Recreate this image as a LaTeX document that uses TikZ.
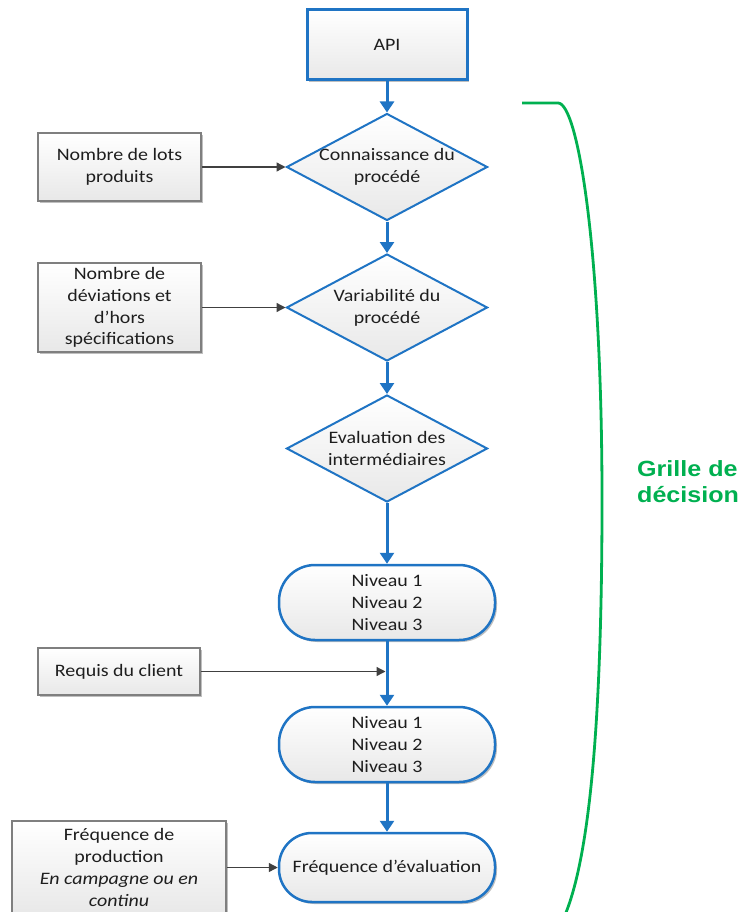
\documentclass[tikz,border=0pt]{standalone}
\usepackage{fontspec}
\setmainfont{Carlito}[FakeStretch=1.14]
\newfontfamily\grillefont{Liberation Sans}[FakeStretch=1.14]
\usetikzlibrary{shapes.geometric,arrows.meta,shadows}
\definecolor{blueC}{HTML}{1F74C4}
\definecolor{greenC}{HTML}{00B050}
\definecolor{grayB}{HTML}{7F7F7F}
\definecolor{grayA}{HTML}{404040}
\definecolor{txtC}{HTML}{1E1E1E}
\tikzset{
  every node/.style={font=\fontsize{17.5}{21.7}\selectfont, text=txtC, align=center},
  gradfill/.style={top color=white, bottom color=black!9},
  sh/.style={drop shadow={shadow xshift=2pt, shadow yshift=-2pt, opacity=0.25, fill=black}},
  apibox/.style={rectangle, draw=blueC, line width=3pt, gradfill, sh, minimum width=160pt, minimum height=70pt, inner sep=0},
  decbox/.style={diamond, draw=blueC, line width=2pt, gradfill, minimum width=201pt, minimum height=107pt, inner sep=0, aspect=2},
  levbox/.style={rectangle, rounded corners=36pt, draw=blueC, line width=2.5pt, gradfill, sh, minimum width=216pt, minimum height=75pt, inner sep=0},
  inbox/.style={rectangle, draw=grayB, line width=1.8pt, gradfill, sh, inner sep=0},
  flow/.style={draw=blueC, line width=3pt, -{Triangle[width=14pt,length=11pt]}},
  feed/.style={draw=grayA, line width=1.3pt, -{Triangle[width=9pt,length=9pt]}},
  brace/.style={draw=greenC, line width=2.8pt}
}
\begin{document}
\begin{tikzpicture}[x=1pt,y=-1pt]
\useasboundingbox (0,0) rectangle (742,912);
\clip (0,0) rectangle (742,912);

% main column
\node[apibox] (api) at (387,45) {API};
\node[decbox] (d1) at (387,167) {};
\node (d1t) at (d1) {Connaissance du\\procédé};
\node[decbox] (d2) at (387,307.5) {};
\node (d2t) at (d2) {Variabilité du\\procédé};
\node[decbox] (d3) at (387,448.5) {};
\node (d3t) at (d3) {Evaluation des\\intermédiaires};
\node[levbox] (n1) at (387,602.5) {Niveau 1\\Niveau 2\\Niveau 3};
\node[levbox] (n2) at (387,744.5) {Niveau 1\\Niveau 2\\Niveau 3};
\node[levbox, minimum height=69pt, rounded corners=33pt] (n3) at (387,867.5) {Fréquence d’évaluation};

% inputs
\node[inbox, minimum width=163pt, minimum height=68pt] (lots) at (119.5,167) {Nombre de lots\\produits};
\node[inbox, minimum width=163pt, minimum height=89pt] (dev) at (119.5,307.5) {Nombre de\\déviations et\\d’hors\\spécifications};
\node[inbox, minimum width=162pt, minimum height=47pt] (req) at (119,671.5) {Requis du client};
\node[inbox, minimum width=214pt, minimum height=93pt] (freq) at (119,867.5) {Fréquence de\\production\\\textit{En campagne ou en}\\\textit{continu}};

% flow arrows
\draw[flow] (api.south) -- (d1.north);
\draw[flow] (d1.south) -- (d2.north);
\draw[flow] (d2.south) -- (d3.north);
\draw[flow] (d3.south) -- (n1.north);
\draw[flow] (n1.south) -- (n2.north);
\draw[flow] (n2.south) -- (n3.north);

% feed arrows
\draw[feed] (lots.east) -- (d1.west);
\draw[feed] (dev.east) -- (d2.west);
\coordinate (j) at (n1.south |- req.east);
\draw[feed, shorten >=1.5pt] (req.east) -- (j);
\draw[feed] (freq.east |- n3.west) -- (n3.west);

% brace
\draw[brace] (522,103) -- (558,103) .. controls (578,103) and (602,250) .. (602,500) .. controls (602,700) and (592,850) .. (565,915);
\node[font=\grillefont\bfseries\fontsize{22}{26}\selectfont, text=greenC, align=left, anchor=west, inner sep=0] (grille) at (637,482) {Grille de\\décision};
\end{tikzpicture}
\end{document}
